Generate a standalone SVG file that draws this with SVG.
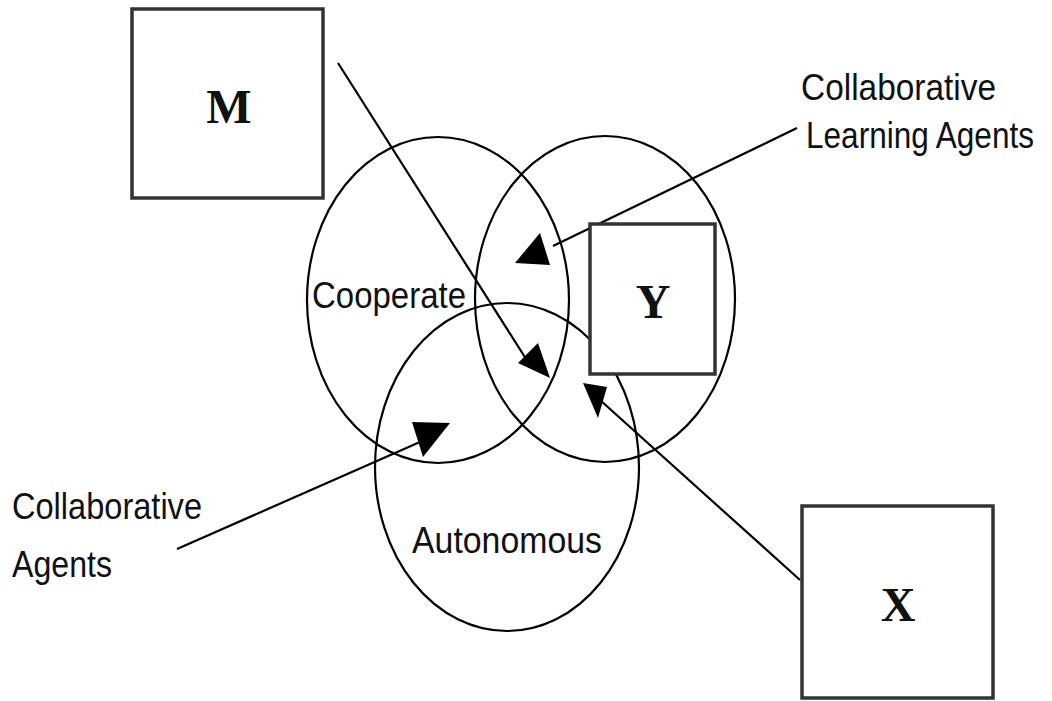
<svg xmlns="http://www.w3.org/2000/svg" width="1052" height="701" viewBox="0 0 1052 701">
<style>
.ell{fill:none;stroke:#000;stroke-width:2.2}
.box{fill:#fff;stroke:#333;stroke-width:3.5}
.big{font-family:"Liberation Serif",serif;font-weight:bold;font-size:48px;fill:#111;text-anchor:middle}
.lbl{font-family:"Liberation Sans",Arial,sans-serif;font-size:32px;fill:#111}
.con{stroke:#000;stroke-width:2.2;fill:none}
.head{fill:#000}
</style>
<rect width="1052" height="701" fill="#fff"/>
<g id="ellipses">
<ellipse id="cooperate-set" class="ell" cx="438" cy="300" rx="131" ry="163"/>
<ellipse id="learning-set" class="ell" cx="605" cy="299" rx="130" ry="163"/>
<ellipse id="autonomous-set" class="ell" cx="507" cy="467" rx="132" ry="164"/>
</g>
<g id="connectors">
<line class="con" x1="797" y1="128" x2="553" y2="246"/>
<polygon class="head" points="540,233 515,263 550,265"/>
<line class="con" x1="338" y1="63" x2="528" y2="362"/>
<polygon class="head" points="538,343 518,363 550,378"/>
<line class="con" x1="800" y1="580" x2="600" y2="400"/>
<polygon class="head" points="583,383 607,387 598,418"/>
<line class="con" x1="177" y1="549" x2="420" y2="442"/>
<polygon class="head" points="412,422 450,423 423,457"/>
</g>
<g id="M">
<rect class="box" x="132" y="9" width="191" height="189"/>
<text class="big" x="229" y="123">M</text>
</g>
<g id="Y">
<rect class="box" x="590" y="224" width="125" height="150"/>
<text class="big" x="653" y="318">Y</text>
</g>
<g id="X">
<rect class="box" x="802" y="506" width="191" height="192"/>
<text class="big" x="898" y="621">X</text>
</g>
<g id="labels">
<text class="lbl" transform="translate(312,308) scale(1,1.18)" textLength="154" lengthAdjust="spacingAndGlyphs">Cooperate</text>
<text class="lbl" transform="translate(412,553) scale(1,1.18)" textLength="190" lengthAdjust="spacingAndGlyphs">Autonomous</text>
<text class="lbl" transform="translate(801,100) scale(1,1.18)" textLength="195" lengthAdjust="spacingAndGlyphs">Collaborative</text>
<text class="lbl" transform="translate(806,148) scale(1,1.18)" textLength="228" lengthAdjust="spacingAndGlyphs">Learning Agents</text>
<text class="lbl" transform="translate(12,519) scale(1,1.18)" textLength="190" lengthAdjust="spacingAndGlyphs">Collaborative</text>
<text class="lbl" transform="translate(12,577) scale(1,1.18)" textLength="100" lengthAdjust="spacingAndGlyphs">Agents</text>
</g>
</svg>
